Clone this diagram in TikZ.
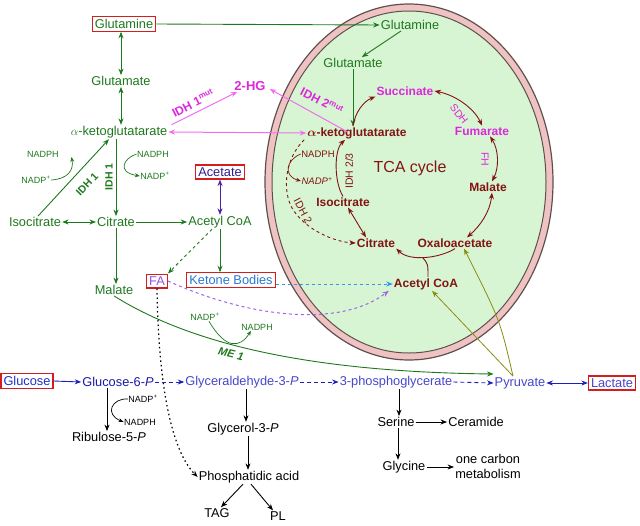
\documentclass[tikz,border=0pt]{standalone}
\usepackage{fontspec}
\setmainfont{Liberation Sans}
\usetikzlibrary{arrows.meta,calc}
\definecolor{gr}{RGB}{30,120,30}
\definecolor{dr}{RGB}{130,20,20}
\definecolor{mg}{RGB}{220,40,220}
\definecolor{mgarr}{RGB}{240,110,240}
\definecolor{glcblue}{RGB}{30,50,200}
\definecolor{gsixblue}{RGB}{25,25,165}
\definecolor{lblue}{RGB}{70,70,205}
\definecolor{barrc}{RGB}{30,30,185}
\definecolor{kbtext}{RGB}{40,120,210}
\definecolor{kbarrc}{RGB}{50,150,240}
\definecolor{fatext}{RGB}{150,80,220}
\definecolor{faarrc}{RGB}{160,100,230}
\definecolor{acettext}{RGB}{50,30,140}
\definecolor{acetarrc}{RGB}{80,30,160}
\definecolor{olive2}{RGB}{140,140,20}
\definecolor{boxred}{RGB}{210,30,30}
\definecolor{mpink}{RGB}{240,195,195}
\definecolor{memb}{RGB}{95,80,80}
\definecolor{mgreen}{RGB}{215,245,210}
\begin{document}
\begin{tikzpicture}[x=1pt,y=-1pt,
  >={Stealth[length=6.5pt,width=5pt]},
  lab/.style={font=\fontsize{12.8}{15}\selectfont, inner sep=1pt},
  tcal/.style={font=\bfseries\fontsize{12}{14}\selectfont, text=dr, inner sep=1pt},
  sm/.style={font=\fontsize{9}{11}\selectfont, inner sep=0.5pt},
  idh/.style={font=\bfseries\fontsize{10.5}{12}\selectfont, inner sep=0.5pt},
  enz/.style={font=\fontsize{10.5}{12}\selectfont, inner sep=0.5pt},
  mut/.style={font=\bfseries\fontsize{12}{14}\selectfont, text=mg, inner sep=0.5pt},
  boxed/.style={draw=boxred, line width=1.2pt, inner sep=2.5pt, fill=white},
  garr/.style={draw=gr, line width=0.9pt},
  drarr/.style={draw=dr, line width=0.9pt},
  karr/.style={draw=black, line width=0.9pt},
  barr/.style={draw=barrc, line width=0.9pt},
  parr/.style={draw=mgarr, line width=1pt},
  oarr/.style={draw=olive2, line width=0.8pt},
  bdash/.style={dash pattern=on 4pt off 3pt},
  hook/.style={line width=0.7pt, >={Stealth[length=5pt,width=4pt]}}
]
\useasboundingbox (0,0) rectangle (640,525);

% mitochondrion
\draw[fill=mpink, draw=memb, line width=1.2pt] (409,182) ellipse [x radius=144pt, y radius=178pt];
\draw[fill=mgreen, draw=memb, line width=1pt] (409,182) ellipse [x radius=137pt, y radius=171pt];

% ---- cytosol nodes ----
\node[lab,boxed,text=gr] (gln) at (124,24) {Glutamine};
\node[lab,text=gr] (glu) at (121,81) {Glutamate};
\node[lab,text=gr] (akg) at (119,132) {$\alpha$-ketoglutatarate};
\node[lab,text=gr] (iso) at (35,222) {Isocitrate};
\node[lab,text=gr] (cit) at (116,222) {Citrate};
\node[lab,text=gr] (acoa) at (220,222) {Acetyl CoA};
\node[lab,text=gr] (mal) at (114,290) {Malate};
\node[lab,boxed,text=fatext] (fa) at (157,281) {FA};
\node[lab,boxed,text=kbtext] (kb) at (231,280) {Ketone Bodies};
\node[lab,boxed,text=acettext] (acet) at (220,172) {Acetate};
\node[font=\bfseries\fontsize{13}{15}\selectfont,text=mg,inner sep=1pt] (hg) at (250,86) {2-HG};

\node[sm,text=gr] (nph1) at (43,154) {NADPH};
\node[sm,text=gr] (np1) at (36,180) {NADP\textsuperscript{+}};
\node[sm,text=gr] (nph2) at (153,154) {NADPH};
\node[sm,text=gr] (np2) at (155,176) {NADP\textsuperscript{+}};
\node[idh,text=gr,rotate=46] (l1) at (87,184) {IDH 1};
\node[idh,text=gr,rotate=90] (l2) at (109,177) {IDH 1};

\node[sm,text=gr] (np3) at (205,317) {NADP\textsuperscript{+}};
\node[sm,text=gr] (nph3) at (257,327) {NADPH};
\node[font=\bfseries\itshape\fontsize{11}{13}\selectfont,text=gr,rotate=-14,inner sep=0.5pt] (me1) at (231,354) {ME 1};

\node[mut,rotate=27] (idh1m) at (193,103) {IDH 1\textsuperscript{mut}};
\node[mut,rotate=-27] (idh2m) at (322,101) {IDH 2\textsuperscript{mut}};

% ---- mitochondrial nodes ----
\node[lab,text=gr] (mgln) at (410,25) {Glutamine};
\node[lab,text=gr] (mglu) at (353,63) {Glutamate};
\node[tcal] (makg) at (357,133) {{\boldmath$\alpha$}-ketoglutatarate};
\node[tcal,text=mg] (suc) at (405,91) {Succinate};
\node[tcal,text=mg] (fum) at (482,131) {Fumarate};
\node[tcal] (mmal) at (488,187) {Malate};
\node[tcal] (oaa) at (455,243) {Oxaloacetate};
\node[tcal] (mcit) at (376,243) {Citrate};
\node[tcal] (miso) at (343,202) {Isocitrate};
\node[tcal] (macoa) at (426,284) {Acetyl CoA};
\node[font=\fontsize{16}{18}\selectfont,text=dr,inner sep=1pt] (tca) at (410,168) {TCA cycle};
\node[sm,text=dr,font=\fontsize{9.5}{11}\selectfont] (nph4) at (318,154) {NADPH};
\node[sm,text=dr,font=\itshape\fontsize{9.5}{11}\selectfont] (np4) at (317,181) {NADP\textsuperscript{+}};
\node[enz,text=mg,rotate=-52] (sdh) at (459,114) {SDH};
\node[enz,text=mg,rotate=-90] (fh) at (485,159) {FH};
\node[enz,text=dr,rotate=90] (idh23) at (349,171) {IDH 2/3};
\node[enz,text=dr,rotate=-62] (idh2) at (303,211) {IDH 2};

% ---- bottom nodes ----
\node[lab,boxed,text=glcblue] (glc) at (27,381) {Glucose};
\node[lab,text=gsixblue] (g6p) at (118,382) {Glucose-6-\textit{P}};
\node[lab,text=lblue] (gap) at (242,382) {Glyceraldehyde-3-\textit{P}};
\node[lab,text=lblue] (pg) at (396,382) {3-phosphoglycerate};
\node[lab,text=lblue] (pyr) at (520,383) {Pyruvate};
\node[lab,boxed,text=lblue] (lac) at (612,383) {Lactate};
\node[lab] (ru5p) at (109,437) {Ribulose-5-\textit{P}};
\node[sm] (np5) at (143,399) {NADP\textsuperscript{+}};
\node[sm] (nph5) at (140,422) {NADPH};
\node[lab] (gro) at (243,429) {Glycerol-3-\textit{P}};
\node[lab] (pa) at (249,477) {Phosphatidic acid};
\node[lab] (tag) at (217,513) {TAG};
\node[lab] (pl) at (278,516) {PL};
\node[lab] (ser) at (396,422) {Serine};
\node[lab] (cer) at (476,422) {Ceramide};
\node[lab] (gly) at (404,467) {Glycine};
\node[lab,align=center] (onec) at (488,466) {one carbon\\metabolism};

% ---- green connectors ----
\draw[garr,<->] (glu.north |- gln.south) -- (glu.north);
\draw[garr,<->] (glu.south) -- (glu.south |- akg.north);
\draw[garr,->] (gln.east) -- (mgln.west);
\draw[garr,->] (mgln) -- (mglu);
\draw[garr,->] (mglu.south) -- (mglu.south |- makg.north);
\draw[garr,<->] (iso.east) -- (cit.west);
\draw[garr,->] (cit.east) -- (acoa.west);
\draw[garr,->] (cit.south) -- (cit.south |- mal.north);
\draw[garr,->] (acoa.south) -- (acoa.south |- kb.north);
\draw[garr,->,dash pattern=on 3pt off 3pt] ([xshift=-8pt]acoa.south) -- (fa.north east);
\draw[draw=acetarrc,line width=1pt,<->] (acet.south) -- (acet.south |- acoa.north);
\draw[garr,->] ([xshift=3pt]iso.north) -- ([xshift=-10pt]akg.south);
\draw[garr,->] (cit.north |- akg.south) -- (cit.north);
\draw[garr,hook,->] (np1.east) .. controls (68,179) and (74,170) .. ([xshift=12pt,yshift=-3pt]nph1.east);
\draw[garr,hook,->] (nph2.west) .. controls (124,158) and (116,172) .. (np2.west);
\draw[garr,->] (mal.south) .. controls (200,350) and (330,372) .. ([yshift=9pt]pyr.west);
\draw[garr,hook,->] ([xshift=4pt]np3.south) .. controls (226,350) and (240,348) .. ([xshift=-6pt]nph3.south);

% ---- pink ----
\draw[parr,<->] (akg.east) -- (makg.west);
\draw[parr,->] ([xshift=3pt]akg.north east) -- ([xshift=4pt]hg.south west);
\draw[parr,->] ([xshift=-9pt,yshift=-6pt]makg.north) -- ([xshift=3pt,yshift=-3pt]hg.east);

% ---- TCA cycle ----
\draw[drarr,->] ([xshift=-4pt]makg.north) .. controls (355,112) and (364,101) .. (suc.south west);
\draw[drarr,<->] (suc.east) .. controls (455,95) and (474,108) .. (fum.north);
\draw[drarr,<->] ([xshift=8pt]fum.south) .. controls (499,150) and (499,168) .. ([xshift=4pt]mmal.north);
\draw[drarr,<->] ([xshift=4pt]mmal.south) .. controls (490,212) and (480,226) .. ([xshift=12pt]oaa.north);
\draw[drarr,<->] ([xshift=5pt]miso.south) -- ([xshift=-10pt]mcit.north);
\draw[drarr,->] (miso.north) .. controls (334,182) and (334,150) .. ([xshift=-12pt]makg.south);
\draw[drarr,->,dashed] ([xshift=-2pt]makg.south west) .. controls (285,158) and (282,190) .. (292,208) .. controls (305,230) and (335,242) .. (mcit.west);
\draw[drarr,hook,->] (nph4.west) .. controls (286,160) and (283,176) .. (np4.west);
\coordinate (j) at (423,258);
\draw[drarr,->] (oaa.south) .. controls (440,258) and (410,262) .. (mcit.south east);
\draw[drarr] ([xshift=2pt]macoa.north) .. controls (428,264) .. (j);

% ---- olive ----
\draw[oarr,->] ([xshift=-7pt]pyr.north) -- ([xshift=6pt]macoa.south);
\draw[oarr,->] ([xshift=-7pt]pyr.north) .. controls (500,320) .. ([xshift=9pt]oaa.south);

% ---- ketone / FA ----
\draw[draw=kbarrc,line width=1pt,dash pattern=on 3pt off 3pt,->] (kb.east |- macoa.west) -- (macoa.west);
\draw[draw=faarrc,line width=1pt,dash pattern=on 3pt off 3pt,->] (fa.east) .. controls (250,318) and (340,328) .. ([xshift=-4pt]macoa.south west);
\draw[karr,line width=1.2pt,dash pattern=on 1.5pt off 3pt,->] (fa.south) .. controls (158,360) and (166,445) .. (pa.west);

% ---- blue ----
\draw[barr,->] (glc.east) -- (g6p.west);
\draw[barr,bdash,->] (g6p.east) -- (gap.west);
\draw[barr,bdash,->] (gap.east) -- (pg.west);
\draw[barr,bdash,->] (pg.east) -- (pyr.west);
\draw[barr,<->] (pyr.east) -- (lac.west);

% ---- black ----
\draw[karr,->] ([xshift=-11pt]g6p.south) -- ([xshift=-11pt]g6p.south |- ru5p.north);
\draw[karr,hook,->] (np5.west) .. controls (112,398) and (104,414) .. (nph5.west);
\draw[karr,->] ([xshift=4pt]gap.south) -- ([xshift=4pt]gap.south |- gro.north);
\draw[karr,->] ([xshift=5pt]gro.south) -- ([xshift=5pt]gro.south |- pa.north);
\draw[karr,->] ([xshift=-6pt]pa.south) -- ([xshift=4pt]tag.north);
\draw[karr,->] ([xshift=2pt]pa.south) -- ([xshift=-5pt]pl.north);
\draw[karr,->] ([xshift=3pt]pg.south) -- ([xshift=3pt]pg.south |- ser.north);
\draw[karr,->] (ser.east) -- (cer.west);
\draw[karr,->] ([xshift=2pt]ser.south) -- ([xshift=2pt]ser.south |- gly.north);
\draw[karr,->] (gly.east) -- (gly.east -| onec.west);
\end{tikzpicture}
\end{document}
